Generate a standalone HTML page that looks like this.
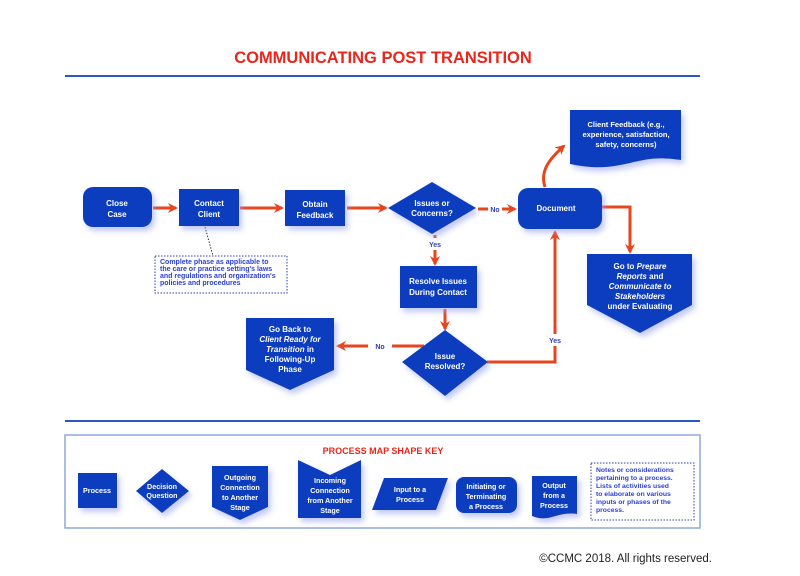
<!DOCTYPE html>
<html><head><meta charset="utf-8"><style>
html,body{margin:0;padding:0;background:#fff;width:800px;height:576px;overflow:hidden}
svg text{font-family:"Liberation Sans",Arial,sans-serif;font-weight:bold}
</style></head><body>
<svg width="800" height="576" viewBox="0 0 800 576" xmlns="http://www.w3.org/2000/svg">
<defs>
<filter id="sh" x="-30%" y="-30%" width="160%" height="160%"><feDropShadow dx="3" dy="4" stdDeviation="3" flood-color="#9aa6f0" flood-opacity="0.6"/></filter>
<marker id="ar" markerWidth="10" markerHeight="10" refX="8" refY="5" orient="auto" markerUnits="userSpaceOnUse"><path d="M0,0 L10,5 L0,10 L3,5 z" fill="#e6461e"/></marker>
</defs>
<text x="383" y="63" text-anchor="middle" font-size="16.5" fill="#e8261c">COMMUNICATING POST TRANSITION</text>
<line x1="65" y1="76" x2="700" y2="76" stroke="#2f55c8" stroke-width="2"/>
<line x1="65" y1="421" x2="700" y2="421" stroke="#2f55c8" stroke-width="2"/>

<g stroke="#e6461e" stroke-width="3" fill="none">
<line x1="153" y1="208" x2="176" y2="208" marker-end="url(#ar)"/>
<line x1="240" y1="208" x2="282" y2="208" marker-end="url(#ar)"/>
<line x1="347" y1="208" x2="386" y2="208" marker-end="url(#ar)"/>
<line x1="478" y1="209" x2="488" y2="209"/>
<line x1="502" y1="209" x2="515" y2="209" marker-end="url(#ar)"/>
<line x1="435" y1="235" x2="435" y2="238"/>
<line x1="435" y1="250" x2="435" y2="264" marker-end="url(#ar)"/>
<line x1="445" y1="309" x2="445" y2="329" marker-end="url(#ar)"/>
<path d="M545,187 C540,172 548,160 564,146" marker-end="url(#ar)"/>
<path d="M601,207 L630,207 L630,252" marker-end="url(#ar)"/>
<path d="M487,362 L555,362 L555,346"/>
<path d="M555,334 L555,232" marker-end="url(#ar)"/>
<line x1="424" y1="346" x2="392" y2="346"/>
<line x1="368" y1="346" x2="338" y2="346" marker-end="url(#ar)"/>
</g>
<text x="495" y="212" font-size="7" fill="#2f3fb0" text-anchor="middle">No</text>
<text x="435" y="247" font-size="7" fill="#2f3fb0" text-anchor="middle">Yes</text>
<text x="555" y="343" font-size="7" fill="#2f3fb0" text-anchor="middle">Yes</text>
<text x="380" y="349" font-size="7" fill="#2f3fb0" text-anchor="middle">No</text>
<line x1="205" y1="227" x2="213" y2="256" stroke="#333" stroke-width="1" stroke-dasharray="1.5,1.5"/>

<g fill="#0a3dbf" filter="url(#sh)">
<rect x="83" y="187" width="69" height="40" rx="10"/>
<rect x="179" y="189" width="60" height="37"/>
<rect x="285" y="190" width="60" height="36"/>
<polygon points="388,208 432,182 476,208 432,234"/>
<rect x="518" y="188" width="84" height="41" rx="10"/>
<path d="M570,110 L681,110 L681,160 C660,157 650,158 630,163 C605,169 590,168 570,164 z"/>
<polygon points="587,254 692,254 692,305 640,333 587,305"/>
<rect x="400" y="266" width="77" height="42"/>
<polygon points="402,362 445,330 488,362 445,396"/>
<polygon points="246,318 334,318 334,370 290,390 246,370"/>
</g>
<g fill="#fff" font-size="8" text-anchor="middle">
<text x="117" y="206">Close</text><text x="117" y="217">Case</text>
<text x="209" y="206">Contact</text><text x="209" y="217">Client</text>
<text x="315" y="207">Obtain</text><text x="315" y="218">Feedback</text>
<text x="432" y="206">Issues or</text><text x="432" y="216">Concerns?</text>
<text x="556" y="211">Document</text>
<text x="626" y="127" font-size="7.5">Client Feedback (e.g.,</text>
<text x="626" y="137" font-size="7.5">experience, satisfaction,</text>
<text x="626" y="147" font-size="7.5">safety, concerns)</text>
<text x="640" y="269">Go to <tspan font-style="italic">Prepare</tspan></text>
<text x="640" y="279"><tspan font-style="italic">Reports</tspan> and</text>
<text x="640" y="289" font-style="italic">Communicate to</text>
<text x="640" y="299" font-style="italic">Stakeholders</text>
<text x="640" y="309">under Evaluating</text>
<text x="438" y="284">Resolve Issues</text><text x="438" y="295">During Contact</text>
<text x="445" y="359">Issue</text><text x="445" y="369">Resolved?</text>
<text x="290" y="332">Go Back to</text>
<text x="290" y="342" font-style="italic">Client Ready for</text>
<text x="290" y="352"><tspan font-style="italic">Transition</tspan> in</text>
<text x="290" y="362">Following-Up</text>
<text x="290" y="372">Phase</text>
</g>
<rect x="155" y="256" width="132" height="37" fill="#fff" stroke="#2f3fb0" stroke-width="1" stroke-dasharray="1.5,1.5"/>
<g fill="#2b3fd0" font-size="7">
<text x="160" y="264">Complete phase as applicable to</text>
<text x="160" y="271">the care or practice setting's laws</text>
<text x="160" y="278">and regulations and organization's</text>
<text x="160" y="285">policies and procedures</text>
</g>

<rect x="65" y="435" width="635" height="93" fill="#fff" stroke="#8fa8dc" stroke-width="1.5"/>
<text x="383" y="454" text-anchor="middle" font-size="9" fill="#e8261c">PROCESS MAP SHAPE KEY</text>
<g fill="#0a3dbf" filter="url(#sh)">
<rect x="78" y="473" width="39" height="35"/>
<polygon points="136,491 162,469 189,491 162,513"/>
<polygon points="212,466 268,466 268,507 240,520 212,507"/>
<polygon points="298,460 330,475 361,460 361,518 298,518"/>
<polygon points="384,478 448,478 436,510 372,510"/>
<rect x="456" y="477" width="61" height="36" rx="8"/>
<path d="M532,476 L577,476 L577,514 C565,512 557,516 548,518 C542,519 537,518 532,516 z"/>
</g>
<g fill="#fff" font-size="7.2" text-anchor="middle">
<text x="97" y="493">Process</text>
<text x="162" y="489">Decision</text><text x="162" y="498">Question</text>
<text x="240" y="480">Outgoing</text><text x="240" y="490">Connection</text><text x="240" y="500">to Another</text><text x="240" y="510">Stage</text>
<text x="330" y="483">Incoming</text><text x="330" y="493">Connection</text><text x="330" y="503">from Another</text><text x="330" y="513">Stage</text>
<text x="410" y="492">Input to a</text><text x="410" y="502">Process</text>
<text x="486" y="489">Initiating or</text><text x="486" y="499">Terminating</text><text x="486" y="509">a Process</text>
<text x="554" y="488">Output</text><text x="554" y="498">from a</text><text x="554" y="508">Process</text>
</g>
<rect x="591" y="463" width="103" height="57" fill="#fff" stroke="#2f3fb0" stroke-width="1" stroke-dasharray="1.5,1.5"/>
<g fill="#2b3fd0" font-size="6.8">
<text x="596" y="472">Notes or considerations</text>
<text x="596" y="480">pertaining to a process.</text>
<text x="596" y="488">Lists of activities used</text>
<text x="596" y="496">to elaborate on various</text>
<text x="596" y="504">inputs or phases of the</text>
<text x="596" y="512">process.</text>
</g>
<text x="712" y="562" text-anchor="end" font-size="11.5" fill="#222" style="font-weight:normal">©CCMC 2018. All rights reserved.</text>
</svg>
</body></html>
